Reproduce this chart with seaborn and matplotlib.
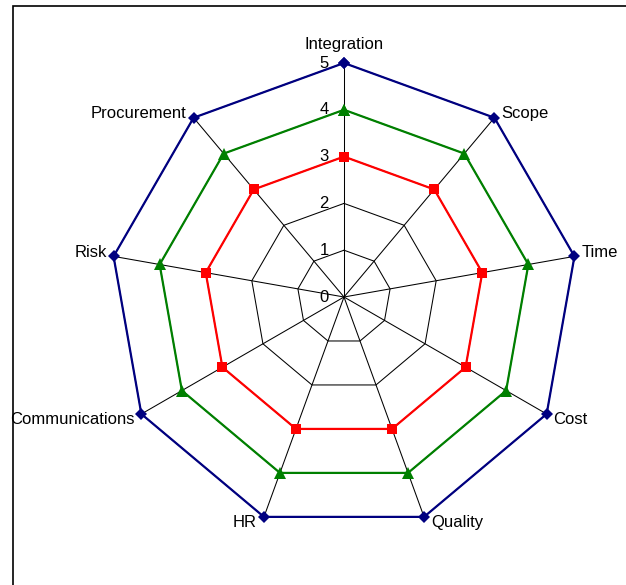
import numpy as np
import pandas as pd
import matplotlib
matplotlib.use("Agg")
import matplotlib.pyplot as plt
import seaborn as sns

categories = ["Integration", "Scope", "Time", "Cost", "Quality",
              "HR", "Communications", "Risk", "Procurement"]
target = [5, 5, 5, 5, 5, 5, 5, 5, 5]
planned = [4, 4, 4, 4, 4, 4, 4, 4, 4]
current = [3, 3, 3, 3, 3, 3, 3, 3, 3]
ticks = [0, 1, 2, 3, 4, 5]

series = {"target": target, "planned": planned, "current": current}
colors = {"target": "#000080", "planned": "#008000", "current": "#FF0000"}
markers = {"target": "D", "planned": "^", "current": "s"}
msize = {"target": 6.5, "planned": 8, "current": 7}

n = len(categories)
angles = np.linspace(0, 2 * np.pi, n, endpoint=False)

rows = []
for name, vals in series.items():
    for i in range(n + 1):
        rows.append({"series": name, "theta": angles[i % n] if i < n else 2 * np.pi,
                     "r": vals[i % n], "order": i})
df = pd.DataFrame(rows)

sns.set_style("white")
plt.rcParams["font.family"] = ["Liberation Sans", "DejaVu Sans"]
plt.rcParams["text.color"] = "black"

fig = plt.figure(figsize=(6.26, 5.85), dpi=100)
# frame (cropped on right/bottom like the reference)
fig.patches.append(plt.Rectangle((13 / 626, -0.1), 1.2, (585 - 6) / 585 + 0.1,
                                 transform=fig.transFigure, fill=False,
                                 edgecolor="black", linewidth=1.2))

ax = fig.add_axes([(344 - 234) / 626, (585 - 297 - 234) / 585, 468 / 626, 468 / 585],
                  projection="polar")
ax.set_theta_offset(np.pi / 2)
ax.set_theta_direction(-1)
ax.grid(False)
ax.spines["polar"].set_visible(False)
ax.patch.set_alpha(0)

# polygon grid and spokes
closed = np.append(angles, 2 * np.pi)
for t in ticks[1:]:
    ax.plot(closed, [t] * (n + 1), color="black", lw=0.75, zorder=1)
for a in angles:
    ax.plot([a, a], [0, ticks[-1]], color="black", lw=0.75, zorder=1)

for name in series:
    d = df[df.series == name].sort_values("order")
    sns.lineplot(data=d, x="theta", y="r", ax=ax, sort=False, color=colors[name],
                 lw=1.6, marker=markers[name], markersize=msize[name],
                 markeredgewidth=0, zorder=3, legend=False, clip_on=False)
ax.set_xlabel("")
ax.set_ylabel("")
ax.set_ylim(0, 5)
ax.set_xticks([])
ax.set_yticks([])

for t in ticks:
    ax.annotate(str(t), (0, t), xytext=(-11, 0), textcoords="offset points",
                ha="right", va="center", fontsize=12)

for a, lab in zip(angles, categories):
    deg = np.degrees(a)
    dy = 3 if (deg < 90 or deg > 270) else -4
    if deg == 0:
        ha, va, off = "center", "bottom", (0, 8)
    elif deg < 170:
        ha, va, off = "left", "center", (5, dy)
    elif deg < 190:
        ha, va, off = "left", "top", (2, 0)
    elif deg < 200:
        ha, va, off = "right", "top", (-2, 0)
    else:
        ha, va, off = "right", "center", (-5, dy)
    ax.annotate(lab, (a, 5), xytext=off, textcoords="offset points",
                ha=ha, va=va, fontsize=12)

fig.savefig("out.png", dpi=100)
